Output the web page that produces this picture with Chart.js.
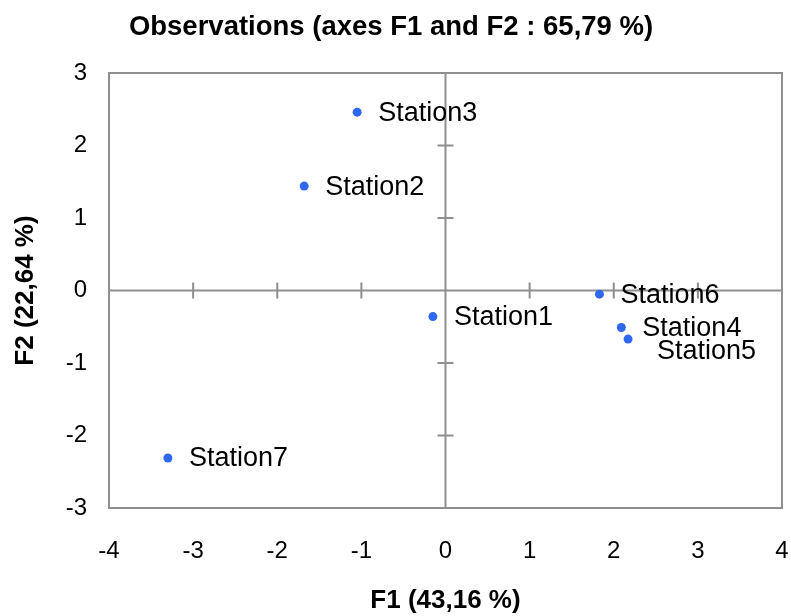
<!DOCTYPE html>
<html>
<head>
<meta charset="utf-8">
<script src="https://cdn.jsdelivr.net/npm/chart.js@4/dist/chart.umd.min.js"></script>
<style>
html,body{margin:0;padding:0;background:#fff;}
canvas{display:block;}
</style>
</head>
<body>
<canvas id="c" width="791" height="616"></canvas>
<script>
const stations = ["Station1","Station2","Station3","Station4","Station5","Station6","Station7"];
const f1 = [-0.15, -1.68, -1.05, 2.09, 2.17, 1.83, -3.30];
const f2 = [-0.36, 1.44, 2.46, -0.51, -0.67, -0.05, -2.31];
const xTicks = [-4,-3,-2,-1,0,1,2,3,4];
const yTicks = [-3,-2,-1,0,1,2,3];
const chartTitle = "Observations (axes F1 and F2 : 65,79 %)";
const xTitle = "F1 (43,16 %)";
const yTitle = "F2 (22,64 %)";

const points = stations.map((s,i)=>({x:f1[i], y:f2[i]}));
const AXIS = '#8f8f8f';
const FONT = "'Liberation Sans', Arial, sans-serif";

const frameAndCross = {
  id:'frameAndCross',
  beforeDatasetsDraw(chart){
    const {ctx, chartArea:a, scales:{x,y}} = chart;
    const x0 = x.getPixelForValue(0), y0 = y.getPixelForValue(0);
    ctx.save();
    ctx.strokeStyle = AXIS;
    ctx.lineWidth = 2;
    ctx.strokeRect(a.left, a.top, a.right-a.left, a.bottom-a.top);
    ctx.beginPath();
    ctx.moveTo(x0, a.top); ctx.lineTo(x0, a.bottom);
    ctx.moveTo(a.left, y0); ctx.lineTo(a.right, y0);
    xTicks.forEach(v=>{ if(v===0||v===xTicks[0]||v===xTicks[xTicks.length-1]) return;
      const px = x.getPixelForValue(v); ctx.moveTo(px, y0-8); ctx.lineTo(px, y0+8); });
    yTicks.forEach(v=>{ if(v===0||v===yTicks[0]||v===yTicks[yTicks.length-1]) return;
      const py = y.getPixelForValue(v); ctx.moveTo(x0-8, py); ctx.lineTo(x0+8, py); });
    ctx.stroke();
    ctx.restore();
  }
};

const labelPlugin = {
  id:'labelPlugin',
  afterDatasetsDraw(chart){
    const {ctx} = chart;
    const meta = chart.getDatasetMeta(0);
    ctx.save();
    ctx.font = "27px " + FONT;
    ctx.fillStyle = '#000';
    ctx.textBaseline = 'middle';
    ctx.textAlign = 'left';
    meta.data.forEach((el,i)=>{
      let dx = 21, dy = 1;
      if (stations[i]==="Station5") { dx = 29; dy = 12; }
      ctx.fillText(stations[i], el.x+dx, el.y+dy);
    });
    ctx.restore();
  }
};

new Chart(document.getElementById('c'), {
  type:'scatter',
  data:{ datasets:[{ data:points, backgroundColor:'#2e68f0', borderWidth:0, pointRadius:4.5, pointHoverRadius:4.5 }] },
  options:{
    responsive:false, animation:false, devicePixelRatio:1,
    layout:{ padding:{left:0, right:9, top:0, bottom:0} },
    plugins:{
      legend:{display:false}, tooltip:{enabled:false},
      title:{ display:true, text:chartTitle, color:'#000',
        font:{family:FONT, size:27.5, weight:'bold'}, padding:{top:11, bottom:29} }
    },
    scales:{
      x:{ type:'linear', min:-4, max:4,
        afterBuildTicks(s){ s.ticks = xTicks.map(v=>({value:v})); },
        afterFit(s){ s.height = 108; s.paddingLeft = 0; s.paddingRight = 0; },
        grid:{display:false, drawTicks:false}, border:{display:false},
        ticks:{ color:'#000', font:{family:FONT, size:24}, padding:29, maxRotation:0, autoSkip:false },
        title:{ display:true, text:xTitle, color:'#000', font:{family:FONT, size:26, weight:'bold'}, padding:{top:0,bottom:0} }
      },
      y:{ type:'linear', min:-3, max:3,
        afterBuildTicks(s){ s.ticks = yTicks.map(v=>({value:v})); },
        afterFit(s){ s.width = 109; s.paddingTop = 0; s.paddingBottom = 0; },
        grid:{display:false, drawTicks:false}, border:{display:false},
        ticks:{ color:'#000', font:{family:FONT, size:24}, padding:22, autoSkip:false },
        title:{ display:true, text:yTitle, color:'#000', font:{family:FONT, size:26, weight:'bold'}, padding:{top:10,bottom:0} }
      }
    }
  },
  plugins:[frameAndCross, labelPlugin]
});
</script>
</body>
</html>
